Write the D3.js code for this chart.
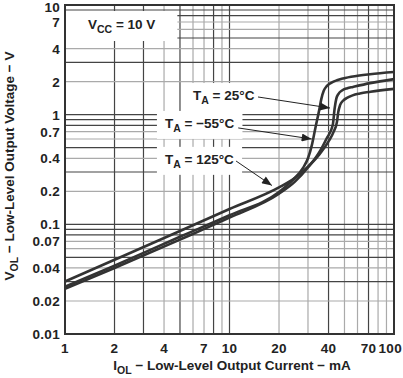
<!DOCTYPE html>
<html>
<head>
<meta charset="utf-8">
<script src="https://cdn.jsdelivr.net/npm/d3@7"></script>
<style>
  body { margin: 0; background: #fff; }
  text { font-family: "Liberation Sans", Arial, sans-serif; font-weight: bold; fill: #222; }
</style>
</head>
<body>
<svg id="chart" width="403" height="378"></svg>
<script>
// data (I_OL dalam mA, V_OL dalam V)
const curve125 = [[1,0.0301],[2,0.0475],[5,0.087],[10,0.138],[20,0.217],[25,0.265],[30,0.335],[35,0.43],[40,0.57],[43,0.70],[45,0.86],[45.8,1.05],[47,1.22],[49,1.34],[51.8,1.42],[56,1.5],[62,1.56],[72,1.62],[100,1.72]];
const curve25  = [[1,0.0258],[2,0.040],[5,0.0726],[10,0.115],[20,0.19],[25,0.245],[30,0.33],[35,0.45],[39,0.61],[42.4,0.80],[43.6,1.15],[44.6,1.4],[46,1.55],[48.3,1.66],[52,1.74],[56.3,1.79],[71.5,1.94],[100,2.11]];
const curve55  = [[1,0.027],[2,0.042],[5,0.077],[10,0.121],[20,0.197],[24.3,0.254],[28,0.327],[30,0.40],[31.7,0.53],[33.3,0.76],[35.1,1.1],[36.2,1.4],[37.4,1.65],[39,1.82],[41.5,1.95],[45,2.06],[49,2.14],[60,2.26],[71.5,2.34],[100,2.45]];

const xTicks = [1,2,4,7,10,20,40,70,100];
const yTicks = [0.01,0.02,0.04,0.07,0.1,0.2,0.4,0.7,1,2,4,7,10];
const xTickText = ["1","2","4","7","10","20","40","70","100"];
const yTickText = ["0.01","0.02","0.04","0.07","0.1","0.2","0.4","0.7","1","2","4","7","10"];

// label suhu: posisi teks, pangkal dan ujung panah (satuan data)
const labels = [
  {sub: "= 25°C",   x: 6.0,  y: 1.36,  from: [14.9, 1.45],  to: [40.8, 1.15]},
  {sub: "= −55°C",  x: 4.05, y: 0.757, from: [11.3, 0.757], to: [31.6, 0.60]},
  {sub: "= 125°C",  x: 4.05, y: 0.356, from: [10.96, 0.378], to: [18.1, 0.226]}
];

const W = 403, H = 378;
const margin = {top: 5, right: 9, bottom: 44, left: 65};
const fs = "13.5px";

const svg = d3.select("#chart");

const x = d3.scaleLog().domain([1, 100]).range([margin.left, W - margin.right]);
const y = d3.scaleLog().domain([0.01, 10]).range([H - margin.bottom, margin.top]);

// garis grid
const gridX = [], gridY = [];
[1, 10].forEach(dec => { for (let m = 1; m <= 9; m++) gridX.push(m * dec); });
[0.01, 0.1, 1].forEach(dec => { for (let m = 1; m <= 9; m++) gridY.push(+(m * dec).toPrecision(3)); });
const darkX = [2, 3, 5, 8, 10, 40, 70];
const darkY = [0.03, 0.05, 0.08, 0.09, 0.1, 0.3, 0.5, 0.8, 0.9, 1, 3, 5, 8, 9];

svg.append("g").selectAll("line")
  .data(gridX)
  .enter().append("line")
  .attr("x1", d => x(d)).attr("x2", d => x(d))
  .attr("y1", y(0.01)).attr("y2", y(10))
  .attr("stroke", d => darkX.includes(d) ? "#444" : "#aaa")
  .attr("stroke-width", 1.2);

svg.append("g").selectAll("line")
  .data(gridY)
  .enter().append("line")
  .attr("y1", d => y(d)).attr("y2", d => y(d))
  .attr("x1", x(1)).attr("x2", x(100))
  .attr("stroke", d => darkY.includes(d) ? "#444" : "#aaa")
  .attr("stroke-width", 1.2);

// bingkai
svg.append("rect")
  .attr("x", x(1)).attr("y", y(10))
  .attr("width", x(100) - x(1)).attr("height", y(0.01) - y(10))
  .attr("fill", "none").attr("stroke", "#333").attr("stroke-width", 2);

// label tick
svg.append("g").selectAll("text")
  .data(xTicks)
  .enter().append("text")
  .attr("x", d => d === 100 ? W - 1 : x(d)).attr("y", 353)
  .attr("text-anchor", d => d === 100 ? "end" : "middle")
  .style("font-size", fs).style("letter-spacing", "0.3px")
  .text((d, i) => xTickText[i]);

svg.append("g").selectAll("text")
  .data(yTicks)
  .enter().append("text")
  .attr("x", 60).attr("y", d => d === 10 ? 12 : y(d) + 5)
  .attr("text-anchor", "end")
  .style("font-size", fs).style("letter-spacing", "0.3px")
  .text((d, i) => yTickText[i]);

// kotak putih + teks anotasi
const annot = svg.append("g");

function subLabel(g, px, py, main, sub, rest) {
  const t = g.append("text").attr("x", px).attr("y", py).style("font-size", fs);
  t.append("tspan").text(main);
  t.append("tspan").attr("dy", 4).style("font-size", "10.5px").text(sub);
  t.append("tspan").attr("dy", -4).text(rest);
  return t;
}

function boxed(px, py, main, sub, rest, padX, padY) {
  const g = annot.append("g");
  const rect = g.append("rect").attr("fill", "#fff");
  const t = subLabel(g, px, py, main, sub, rest);
  const b = t.node().getBBox();
  rect.attr("x", b.x - padX).attr("y", b.y - padY)
      .attr("width", b.width + 2 * padX).attr("height", b.height + 2 * padY);
}

boxed(x(1.38), y(6.04), "V", "CC", " = 10 V", 22, 6);
labels.forEach(l => boxed(x(l.x), y(l.y), "T", "A", " " + l.sub, 8, 5));

// kurva
const line = d3.line()
  .x(d => x(d[0])).y(d => y(d[1]))
  .curve(d3.curveMonotoneX);

svg.append("g").selectAll("path")
  .data([curve125, curve25, curve55])
  .enter().append("path")
  .attr("d", line)
  .attr("fill", "none")
  .attr("stroke", "#333")
  .attr("stroke-width", 2.6);

// panah
svg.append("defs").append("marker")
  .attr("id", "arrow")
  .attr("markerUnits", "userSpaceOnUse")
  .attr("viewBox", "0 0 10 8")
  .attr("refX", 10).attr("refY", 4)
  .attr("markerWidth", 11).attr("markerHeight", 8)
  .attr("orient", "auto")
  .append("path").attr("d", "M0,0 L10,4 L0,8 Z").attr("fill", "#222");

svg.append("g").selectAll("line")
  .data(labels)
  .enter().append("line")
  .attr("x1", d => x(d.from[0])).attr("y1", d => y(d.from[1]))
  .attr("x2", d => x(d.to[0])).attr("y2", d => y(d.to[1]))
  .attr("stroke", "#222").attr("stroke-width", 1)
  .attr("marker-end", "url(#arrow)");

// judul sumbu
const xt = svg.append("text").attr("x", 232).attr("y", 370)
  .attr("text-anchor", "middle").style("font-size", fs);
xt.append("tspan").text("I");
xt.append("tspan").attr("dy", 3.5).style("font-size", "10.5px").text("OL");
xt.append("tspan").attr("dy", -3.5).text(" − Low-Level Output Current − mA");

const yt = svg.append("text").attr("transform", "translate(14,166) rotate(-90)")
  .attr("text-anchor", "middle").style("font-size", fs);
yt.append("tspan").text("V");
yt.append("tspan").attr("dy", 4).style("font-size", "10.5px").text("OL");
yt.append("tspan").attr("dy", -4).text(" − Low-Level Output Voltage − V");
</script>
</body>
</html>
